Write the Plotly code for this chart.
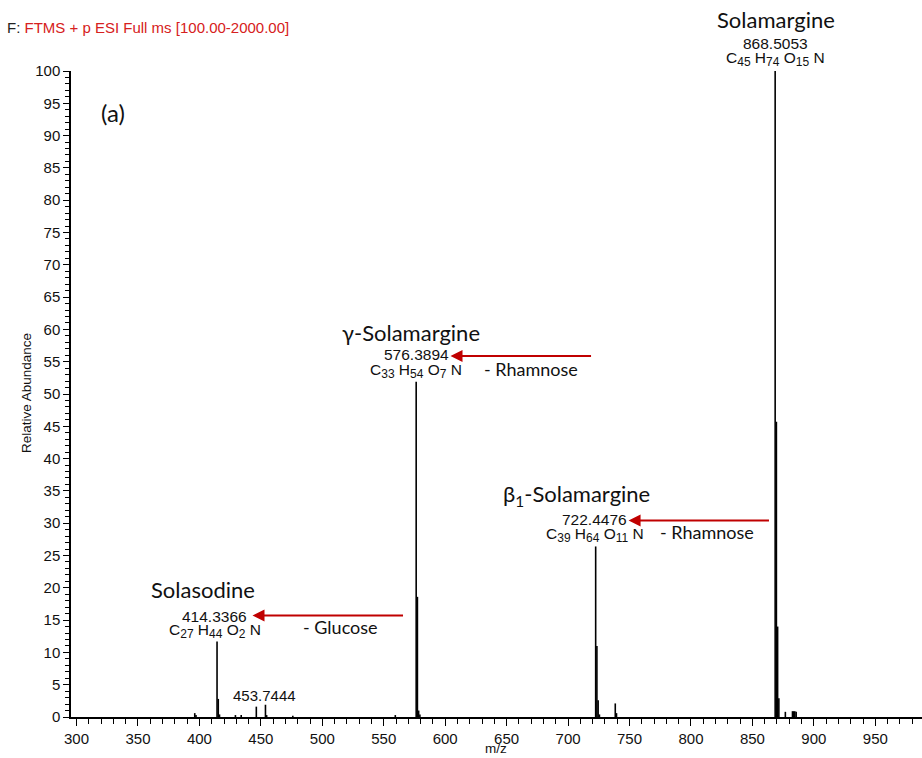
import plotly.graph_objects as go

# Centroided peaks: m/z and relative abundance (%)
mz = [396.2, 397.2, 414.3366, 415.34, 416.34, 429.3, 434.0, 446.3, 453.7444, 454.7,
      476.0, 559.4, 576.3894, 577.39, 578.39, 579.4, 722.4476, 723.45, 724.45, 725.5,
      738.4, 739.4, 868.5053, 869.51, 870.51, 871.52, 876.8, 882.6, 883.5, 884.5, 885.6]
abundance = [0.6, 0.3, 11.7, 2.8, 0.4, 0.3, 0.3, 1.6, 1.9, 0.3,
             0.2, 0.3, 51.9, 18.6, 1.0, 0.4, 26.4, 11.0, 2.6, 0.4,
             2.1, 0.6, 100.0, 45.7, 14.0, 2.9, 0.8, 0.9, 0.9, 0.9, 0.8]

# Labelled compounds
names = ["Solamargine", "γ-Solamargine", "β<sub>1</sub>-Solamargine", "Solasodine"]
label_mz = ["868.5053", "576.3894", "722.4476", "414.3366"]
formula_parts = [[("C", "45"), ("H", "74"), ("O", "15")],
                 [("C", "33"), ("H", "54"), ("O", "7")],
                 [("C", "39"), ("H", "64"), ("O", "11")],
                 [("C", "27"), ("H", "44"), ("O", "2")]]
losses = ["- Rhamnose", "- Rhamnose", "- Glucose"]


def formula_text(parts):
    sub = "<sub><span style='font-size:12px'>{}</span></sub>"
    return " ".join(el + sub.format(n) for el, n in parts) + " N"


# stick spectrum
xs, ys = [], []
for m, a in zip(mz, abundance):
    xs += [m, m, None]
    ys += [0, a, None]

fig = go.Figure(go.Scatter(x=xs, y=ys, mode="lines",
                           line=dict(color="black", width=1.6),
                           hoverinfo="skip", showlegend=False))

SANS = "Liberation Sans, Arial, sans-serif"
NAMEF = "Lato, Open Sans, sans-serif"
ann = []

# compound name / m/z / formula blocks, y given in % of the axis (paper = %/100)
blocks = [
    ((868.8, 108.0), (868.5, 104.3), (868.5, 101.8)),
    ((571.8, 59.5), (576.6, 56.1), (576.6, 53.6)),
    ((706.8, 34.4), (721.5, 30.5), (722.3, 28.2)),
    ((403.3, 19.7), (412.3, 15.6), (412.3, 13.3)),
]
for i, (pn, pm, pf) in enumerate(blocks):
    ann.append(dict(x=pn[0], y=pn[1] / 100, yref="paper", yanchor="middle",
                    text=names[i], showarrow=False,
                    font=dict(family=NAMEF, size=22, color="#111")))
    ann.append(dict(x=pm[0], y=pm[1] / 100, yref="paper", yanchor="middle",
                    text=label_mz[i], showarrow=False,
                    font=dict(family=SANS, size=15.5, color="#111")))
    ann.append(dict(x=pf[0], y=pf[1] / 100, yref="paper", yanchor="middle",
                    text=formula_text(formula_parts[i]), showarrow=False,
                    font=dict(family=SANS, size=15.5, color="#111")))

# neutral-loss arrows (head, tail, y) and their captions
arrows = [(604.3, 719.9, 55.9), (749.2, 864.7, 30.4), (443.2, 566.9, 15.7)]
loss_pos = [(670.2, 53.9), (813.4, 28.7), (514.8, 13.9)]
for (hx, tx, y), (lx, ly), lt in zip(arrows, loss_pos, losses):
    ann.append(dict(x=hx, y=y, ax=tx, ay=y, axref="x", ayref="y", text="",
                    showarrow=True, arrowhead=2, arrowsize=1.2, arrowwidth=2,
                    arrowcolor="#c00000"))
    ann.append(dict(x=lx, y=ly / 100, yref="paper", yanchor="middle",
                    text=lt, showarrow=False,
                    font=dict(family=NAMEF, size=18, color="#111")))

ann.append(dict(x=453.0, y=0.033, yref="paper", yanchor="middle",
                text="453.7444", showarrow=False,
                font=dict(family=SANS, size=15, color="#111")))
ann.append(dict(x=330, y=0.936, yref="paper", yanchor="middle",
                text="(a)", showarrow=False,
                font=dict(family=NAMEF, size=24, color="#111")))

# header, axis titles
ann.append(dict(xref="paper", yref="paper", x=-0.078, y=1.0666,
                xanchor="left", yanchor="middle",
                text="F: <span style='color:#d62020'>FTMS + p ESI Full ms [100.00-2000.00]</span>",
                showarrow=False, font=dict(family=SANS, size=15, color="#222")))
ann.append(dict(xref="paper", yref="paper", x=-0.0517, y=0.5016,
                xanchor="center", yanchor="middle", textangle=-90,
                text="Relative Abundance", showarrow=False,
                font=dict(family=SANS, size=13.5, color="#111")))
ann.append(dict(xref="paper", yref="paper", x=0.4994, y=-0.048,
                xanchor="center", yanchor="middle",
                text="m/z", showarrow=False,
                font=dict(family=SANS, size=13.5, color="#111")))

fig.update_layout(
    width=922, height=758,
    margin=dict(l=71, r=0, t=71, b=41),
    paper_bgcolor="white", plot_bgcolor="white",
    annotations=ann,
    xaxis=dict(range=[295.5, 988], tickmode="linear", tick0=300, dtick=50,
               ticks="outside", ticklen=7, tickwidth=1, tickcolor="black",
               showline=True, linecolor="black", linewidth=1.5,
               showgrid=False, zeroline=False,
               tickfont=dict(family=SANS, size=15, color="#111"),
               minor=dict(tick0=300, dtick=10, ticks="outside", ticklen=5,
                          tickcolor="black", showgrid=False)),
    yaxis=dict(range=[0, 100], tickmode="linear", tick0=0, dtick=5,
               ticks="outside", ticklen=6, tickwidth=1, tickcolor="black",
               showline=True, linecolor="black", linewidth=1.5,
               showgrid=False, zeroline=False,
               tickfont=dict(family=SANS, size=15, color="#111"),
               minor=dict(tick0=0, dtick=1, ticks="outside", ticklen=4,
                          tickcolor="black", showgrid=False)),
)

fig.write_html("out.html")
